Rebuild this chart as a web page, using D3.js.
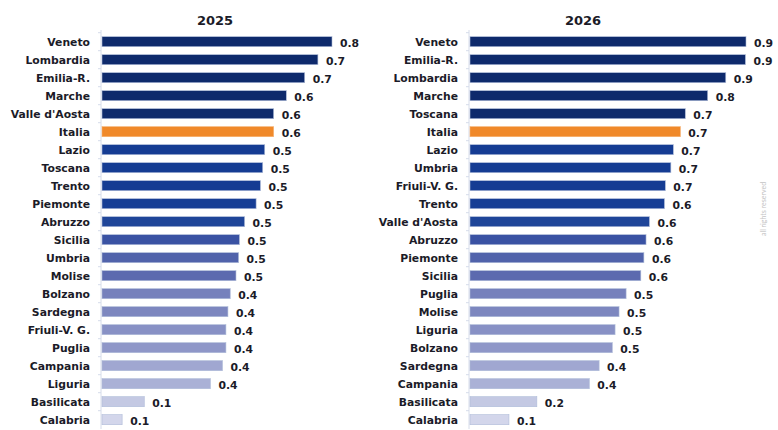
<!DOCTYPE html>
<html>
<head>
<meta charset="utf-8">
<script src="https://cdn.jsdelivr.net/npm/d3@7"></script>
<style>
  body { margin: 0; background: #fff; }
  svg { display: block; }
  .cat { font-family: "DejaVu Sans", sans-serif; font-weight: 700; font-size: 10.8px; fill: #1b1b28; }
  .val { font-family: "DejaVu Sans", sans-serif; font-weight: 700; font-size: 10.8px; fill: #1b1b28; }
  .title { font-family: "DejaVu Sans", sans-serif; font-weight: 700; font-size: 13px; fill: #1b1b28; }
</style>
</head>
<body>
<div id="chart"></div>
<script>
// 2025
const regions2025 = ["Veneto","Lombardia","Emilia-R.","Marche","Valle d'Aosta","Italia","Lazio","Toscana","Trento","Piemonte","Abruzzo","Sicilia","Umbria","Molise","Bolzano","Sardegna","Friuli-V. G.","Puglia","Campania","Liguria","Basilicata","Calabria"];
const values2025 = [0.80,0.751,0.705,0.641,0.597,0.597,0.566,0.559,0.551,0.536,0.496,0.478,0.475,0.466,0.446,0.438,0.431,0.431,0.419,0.377,0.147,0.070];
const labels2025 = ["0.8","0.7","0.7","0.6","0.6","0.6","0.5","0.5","0.5","0.5","0.5","0.5","0.5","0.5","0.4","0.4","0.4","0.4","0.4","0.4","0.1","0.1"];

// 2026
const regions2026 = ["Veneto","Emilia-R.","Lombardia","Marche","Toscana","Italia","Lazio","Umbria","Friuli-V. G.","Trento","Valle d'Aosta","Abruzzo","Piemonte","Sicilia","Puglia","Molise","Liguria","Bolzano","Sardegna","Campania","Basilicata","Calabria"];
const values2026 = [0.90,0.898,0.834,0.775,0.702,0.686,0.663,0.655,0.637,0.634,0.585,0.574,0.567,0.557,0.509,0.486,0.473,0.464,0.421,0.389,0.218,0.127];
const labels2026 = ["0.9","0.9","0.9","0.8","0.7","0.7","0.7","0.7","0.7","0.6","0.6","0.6","0.6","0.6","0.5","0.5","0.5","0.5","0.4","0.4","0.2","0.1"];

const width = 778;
const height = 430;

// colour by row position, Italia always orange
const rowColors = ["#0e2a6c","#0e2a6c","#0e2a6c","#0e2a6c","#0e2a6c","#0e2a6c",
  "#153c93","#153c93","#153c93","#173e95","#1f4599","#3a52a3","#5163ab","#5c6aaf",
  "#7681bc","#7d87bf","#8891c5","#8f97c8","#a0a7d1","#aab1d6","#c4c9e3","#d3d6eb"];
const italiaColor = "#f0892a";

const svg = d3.select("#chart").append("svg")
  .attr("width", width)
  .attr("height", height);

const y = d3.scaleBand()
  .range([32.7, 428.7])
  .paddingInner(0.444)
  .paddingOuter(0.222);

function drawPanel(regions, values, labels, title, x0, maxW) {
  y.domain(regions);
  const x = d3.scaleLinear()
    .domain([0, d3.max(values)])
    .range([x0 + 1, x0 + 1 + maxW]);

  const g = svg.append("g");

  // axis line + small ticks between rows
  g.append("line")
    .attr("x1", x0).attr("x2", x0)
    .attr("y1", 30).attr("y2", 429)
    .attr("stroke", "#d6dcea").attr("stroke-width", 1);

  g.selectAll(".tk")
    .data(regions)
    .enter()
    .append("line")
    .attr("x1", x0 - 3).attr("x2", x0)
    .attr("y1", (d) => y(d) - 4)
    .attr("y2", (d) => y(d) - 4)
    .attr("stroke", "#d6dcea");

  g.selectAll(".bar")
    .data(regions)
    .enter()
    .append("rect")
    .attr("x", x(0))
    .attr("y", (d) => y(d))
    .attr("width", (d,i) => x(values[i]) - x(0))
    .attr("height", y.bandwidth())
    .attr("fill", (d,i) => d === "Italia" ? italiaColor : rowColors[i])
    .attr("stroke", (d) => d === "Italia" ? "#f6b070" : "#aebbd8")
    .attr("stroke-width", 0.6);

  g.selectAll(".cat")
    .data(regions)
    .enter()
    .append("text")
    .attr("class", "cat")
    .attr("x", x0 - 11)
    .attr("y", (d) => y(d) + y.bandwidth()/2 + 4)
    .attr("text-anchor", "end")
    .text((d) => d);

  g.selectAll(".val")
    .data(regions)
    .enter()
    .append("text")
    .attr("class", "val")
    .attr("x", (d,i) => x(values[i]) + 8)
    .attr("y", (d) => y(d) + y.bandwidth()/2 + 5.5)
    .text((d,i) => labels[i]);

  svg.append("text")
    .attr("class", "title")
    .attr("x", x0 + 114)
    .attr("y", 25)
    .attr("text-anchor", "middle")
    .text(title);
}

drawPanel(regions2025, values2025, labels2025, "2025", 101, 230);
drawPanel(regions2026, values2026, labels2026, "2026", 469, 276);

svg.append("text")
  .attr("transform", "translate(766,236) rotate(-90)")
  .attr("font-family", "Lato, sans-serif")
  .attr("font-size", 7)
  .attr("fill", "#c4c4c4")
  .text("all rights reserved");
</script>
</body>
</html>
